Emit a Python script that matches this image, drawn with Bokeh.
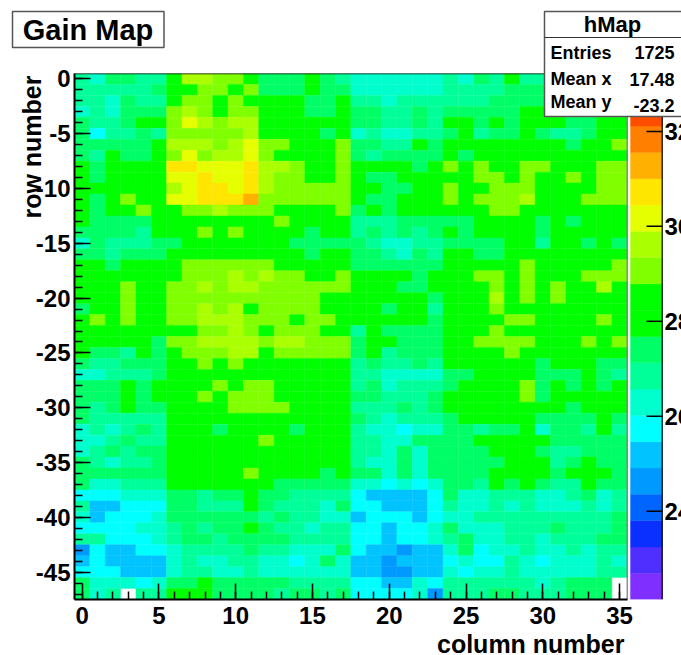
import math
from bokeh.embed import file_html
from bokeh.layouts import column
from bokeh.resources import INLINE
from bokeh.plotting import figure
from bokeh.models import (LinearAxis, FixedTicker, LinearColorMapper, ColumnDataSource, Range1d)
from bokeh.core.properties import value
from bokeh.transform import transform

# contour level of every cell: one row per string, first string is row 0, char = level code, x = empty bin
level_rows = [
    "879988addcca999a98" "7777778798a889aaaa",
    "888889aaccac999a99" "777777888899999aaa",
    "887988accacaaaa99a" "88788888899999aaaa",
    "787999cdcaccaaa99a" "99889899999aaa9aaa",
    "9889aacedcddaaaaaa" "998898aa9a9aaa99aa",
    "968898cccccdaaaa9a" "7877889a899a9889aa",
    "99999adddcdeccaaac" "9988a9aaaaaaaa9aac",
    "98a99acecddecaaaac" "989999a9aaaaaaaaaa",
    "a9aaaaffeeefddcaac" "aaaa9acacaaccaaacc",
    "a9aaaaeefeefdccaac" "a99aaaaaccacaacacc",
    "aaaaaadeffefdccccc" "aa99aacaacccaaaacc",
    "a9acaaeefffgcccccc" "a99aaacacccdaaaccc",
    "a9aacaaccdcccaaaac" "9a9aaaaaaccaaaaaaa",
    "a9999aaaaaaaacaaaa" "88899999aaaa9a9aaa",
    "99998aaacacaaaa9aa" "898989a9aaaa9aaaaa",
    "7988899aaaaaaa9999" "9877889999aa8aa9a9",
    "998999aaaaaaaaa9aa" "998798aa99aaaaaaaa",
    "aa9aaaaccccccaaaaa" "999999aaaaacaaaaac",
    "aaaaaaacccdcdccaac" "aaaa9aaaccacaaaccc",
    "aaacaaccdcddcccccc" "aaa99aaaacacacaada",
    "aaacaaccccccccccaa" "aaaaa9aaadacacaaaa",
    "9aacaaccdcdaccccaa" "aa9aa8aaacaaaaaaaa",
    "acacaaccdddcccacca" "aaaaa9aaaaccaaaaca",
    "aaaaaaaaccdcacccaa" "8a9999aaacaaaaaaaa",
    "aaaaa9ccddddcddccc" "9aa999aaccccaaacac",
    "a998a9acccddaccccc" "9a8999aaaacaaaaaaa",
    "988999aacacaaaaaaa" "898898aaaaaa9aaa99",
    "778889aaaaaaaaaaaa" "88777799aaaa999a98",
    "999a9aaaacaccaaaaa" "8978889aaaac9a9a9a",
    "999a9aaacacccaaaaa" "998889aaaaac9aaaaa",
    "989a99aaaaccccaaaa" "888989aaaaaaaa9aaa",
    "988888aaaaaaaaaaaa" "9878889aaaaa9999a9",
    "787898aaa9aaaa9aaa" "87767799899a7998a8",
    "778988aaaaaacaaaaa" "88779999aaaaa99999",
    "789899aaaaaaaaaaaa" "887979999aaa988999",
    "987889aaaaaaaaaaaa" "8779799999aaa89a99",
    "999999aaaaacaaaa9a" "997979999aaaa9aaa9",
    "977888aaaaaaa99999" "776767998a9a988a99",
    "66677799899a998888" "655556977888778978",
    "85566699888a988879" "665556877878777878",
    "756667999999898877" "566656778888888889",
    "66667789899a988788" "665667977788898889",
    "886667899899998888" "665667897788788899",
    "465566788889887779" "655455796778778788",
    "565555787788776797" "554555676687677787",
    "666555788778777777" "554455767787777788",
    "97776799a999998888" "66557688888878999x",
    "978x88aaa999989989" "66667488899888999x",
]
level_codes = "0123456789abcdefghij"
level_gains = [22.4, 23.0, 23.5, 24.1, 24.6, 25.2, 25.7, 26.3, 26.8, 27.4,
               27.9, 28.5, 29.0, 29.6, 30.1, 30.7, 31.2, 31.8, 32.3, 32.9]
palette = ["#7f2fff", "#4f2fff", "#0a30ff", "#0064ff", "#0099ff", "#00c3ff", "#00ffff",
           "#00ffcc", "#00ff99", "#00ff66", "#00ff00", "#00ff00", "#80ff00", "#aaff00",
           "#e6ff00", "#ffe600", "#ffb000", "#ff8000", "#ff4d00", "#ff0000"]
gain_low, gain_high = 22.14, 33.22
column_ticks = [0, 5, 10, 15, 20, 25, 30, 35]
row_ticks = [0, -5, -10, -15, -20, -25, -30, -35, -40, -45]
row_tick_labels = ["0", "-5", "-10", "-15", "-20", "-25", "-30", "-35", "-40", "-45"]
bar_ticks = [24, 26, 28, 30, 32]
bar_tick_labels = ["24", "26", "28", "30", "32"]
stats_names = ["Entries", "Mean x", "Mean y"]
stats_values = ["1725", "17.48", "-23.2"]

FONT = "Liberation Sans"
W, H = 681, 655
PX_L, PX_T, PX_B, PX_R = 74, 73, 599, W
PER_COL = 15.353
x_lo, x_hi = -0.5, -0.5 + (PX_R - PX_L) / PER_COL
y_lo, y_hi = -47.5, 0.5
X = lambda px: x_lo + (px - PX_L) / PER_COL

cols, rows, gains = [], [], []
for r, line in enumerate(level_rows):
    assert len(line) == 36, r
    for c, ch in enumerate(line):
        if ch != "x":
            cols.append(c)
            rows.append(-r)
            gains.append(level_gains[level_codes.index(ch)])

p = figure(width=W, height=H, output_backend="svg", toolbar_location=None,
           x_range=Range1d(x_lo, x_hi), y_range=Range1d(y_lo, y_hi),
           x_axis_location=None, y_axis_location=None,
           min_border_left=PX_L, min_border_right=0, min_border_top=PX_T,
           min_border_bottom=H - PX_B, outline_line_color=None,
           background_fill_color="white", border_fill_color="white")
p.xgrid.visible = False
p.ygrid.visible = False
p.extra_y_ranges["gain"] = Range1d(gain_low, gain_high)

mapper = LinearColorMapper(palette=palette, low=gain_low, high=gain_high)
src = ColumnDataSource(dict(col=cols, row=rows, gain=gains))
p.rect("col", "row", 1, 1, source=src, fill_color=transform("gain", mapper),
       line_color=transform("gain", mapper), line_width=0.4)

# colour bar
step = (gain_high - gain_low) / 20
bar_src = ColumnDataSource(dict(
    y=[gain_low + (i + 0.5) * step for i in range(20)],
    color=palette))
bar_l, bar_r = X(630), X(661.7)
p.rect(x=(bar_l + bar_r) / 2, y="y", width=bar_r - bar_l, height=step, source=bar_src,
       y_range_name="gain", fill_color="color", line_color="color", line_width=0.4)
p.segment(x0=[bar_r], x1=[bar_r], y0=[gain_low], y1=[gain_high], y_range_name="gain",
          line_color="black", line_width=1.2)
p.segment(x0=[X(646)] * 5, x1=[bar_r] * 5, y0=bar_ticks, y1=bar_ticks, y_range_name="gain",
          line_color="black", line_width=1.5)
p.text(x=[X(664)] * 5, y=bar_ticks, text=bar_tick_labels, y_range_name="gain",
       text_font=value(FONT), text_font_style="bold", text_font_size="24px",
       text_baseline="middle", text_color="black")

# frame top and right
p.line(x=[x_lo, 35.5], y=[y_hi, y_hi], line_color="black", line_width=1.5)
p.line(x=[35.5, 35.5], y=[y_lo, y_hi], line_color="#777777", line_width=1.2)

xaxis = LinearAxis(bounds=(-0.5, 35.5),
                   ticker=FixedTicker(ticks=column_ticks, minor_ticks=list(range(0, 36))))
yaxis = LinearAxis(bounds=(-47.5, 0.5),
                   ticker=FixedTicker(ticks=row_ticks, minor_ticks=[-i for i in range(48)]))
yaxis.major_label_overrides = dict(zip(row_ticks, row_tick_labels))
for ax, standoff in ((xaxis, 7), (yaxis, 4)):
    ax.axis_line_color = "black"
    ax.axis_line_width = 2
    ax.major_tick_in = 16
    ax.major_tick_out = 0
    ax.minor_tick_in = 8
    ax.minor_tick_out = 0
    ax.major_tick_line_color = "black"
    ax.minor_tick_line_color = "black"
    ax.major_tick_line_width = 1.5
    ax.minor_tick_line_width = 1.5
    ax.major_label_standoff = standoff
    ax.major_label_text_font = FONT
    ax.major_label_text_font_style = "bold"
    ax.major_label_text_font_size = "24px"
    ax.major_label_text_color = "black"
p.add_layout(xaxis, "below")
p.add_layout(yaxis, "left")

# transparent sheet over the whole page, in page pixels: boxes and titles that lie across the frame
sheet = figure(width=W, height=H, output_backend="svg", toolbar_location=None,
               x_range=Range1d(0, W), y_range=Range1d(H, 0),
               x_axis_location=None, y_axis_location=None,
               min_border_left=0, min_border_right=0, min_border_top=0, min_border_bottom=0,
               outline_line_color=None, background_fill_alpha=0, border_fill_alpha=0,
               margin=(-H, 0, 0, 0))
sheet.xgrid.visible = False
sheet.ygrid.visible = False
# the sheet's frame must not be lined up with the map's frame
for fig in (p, sheet):
    if hasattr(fig, "frame_align"):
        fig.frame_align = False


def label(text, px, py, size, align="left", angle=0.0):
    sheet.text(x=[px], y=[py], text=[text], text_font=value(FONT), text_font_style="bold",
               text_font_size=size, text_align=align, text_baseline="middle",
               text_color="black", angle=angle)


def box(l, r, t, b):
    sheet.quad(left=[l], right=[r], top=[t], bottom=[b], fill_color="white",
               line_color="#555555", line_width=1.5)


label("column number", 624, 643, "25px", "right")
label("row number", 31, 75, "25px", "right", math.pi / 2)

box(12, 163.5, 11, 47)
label("Gain Map", 87.5, 29.5, "29px", "center")

box(544, 690, 11, 116)
sheet.segment(x0=[544], x1=[690], y0=[37], y1=[37], line_color="#333333", line_width=1)
label("hMap", 612, 23.5, "22px", "center")
for name, val, name_y, val_y in zip(stats_names, stats_values, (52, 78.5, 101.5), (52, 78.5, 105)):
    label(name, 550, name_y, "18px")
    label(val, 674, val_y, "18px", "right")

open("out.html", "w").write(file_html(column(p, sheet, spacing=0), INLINE))
